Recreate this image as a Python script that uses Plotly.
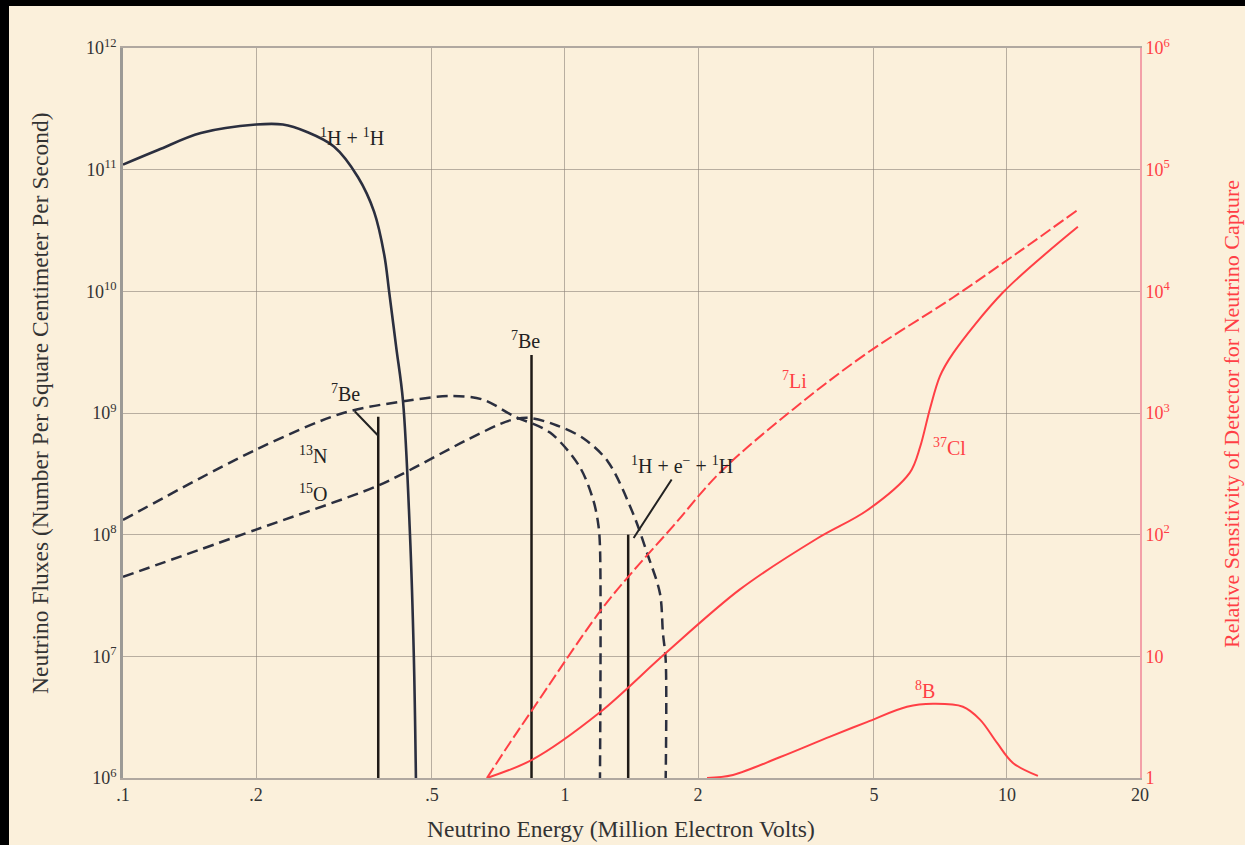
import math
import plotly.graph_objects as go

# ---------------- data ----------------
# neutrino energies in MeV, fluxes per cm^2 per s (left axis)
pp_E = [0.1, 0.12, 0.15, 0.2, 0.23, 0.26, 0.30, 0.34, 0.37, 0.39, 0.40, 0.415, 0.43, 0.446, 0.455, 0.46]
pp_F = [1.1e11, 1.45e11, 2.0e11, 2.35e11, 2.35e11, 2.05e11, 1.55e11, 8.7e10, 4.5e10, 2.0e10,
        1.0e10, 3.5e9, 1.26e9, 1.0e8, 1.0e7, 1.0e6]

n13_E = [0.1, 0.2, 0.315, 0.439, 0.549, 0.652, 0.763, 0.925, 1.08, 1.16, 1.19, 1.2, 1.2]
n13_F = [1.32e8, 5.0e8, 1.0e9, 1.26e9, 1.38e9, 1.29e9, 9.5e8, 6.9e8, 3.6e8, 1.9e8, 1.2e8, 8.0e7, 1.0e6]

o15_E = [0.1, 0.2, 0.375, 0.446, 0.600, 0.751, 0.833, 0.959, 1.1, 1.25, 1.425, 1.533, 1.64, 1.666, 1.69, 1.69]
o15_F = [4.5e7, 1.1e8, 2.5e8, 3.4e8, 6.0e8, 8.7e8, 9.1e8, 7.9e8, 6.2e8, 4.0e8, 1.5e8, 7.1e7, 3.3e7,
         1.55e7, 9.3e6, 1.0e6]

# line spectra: 7Be (two lines) and pep
line_E = [0.378, 0.84, 1.39]
line_F = [9.3e8, 3.0e9, 1.0e8]

# detector sensitivities (right axis)
li7_E = [0.666, 0.751, 0.842, 1.20, 1.425, 1.755, 2.242, 3.28, 4.82, 7.55, 10.7, 14.47]
li7_S = [1.0, 1.95, 3.6, 23.4, 50, 117, 324, 1070, 3100, 8900, 21400, 46800]

cl37_E = [0.666, 0.842, 1.20, 1.683, 2.488, 3.72, 4.82, 6.03, 6.36, 6.69, 7.05, 7.55, 9.79, 14.47]
cl37_S = [1.0, 1.41, 3.47, 10.5, 35.5, 93, 158, 324, 525, 1070, 2000, 3090, 9770, 33900]

b8_E = [2.096, 2.40, 3.06, 3.98, 4.82, 5.94, 6.80, 7.95, 8.69, 9.49, 10.32, 11.75]
b8_S = [1.0, 1.06, 1.48, 2.19, 2.88, 3.85, 4.07, 3.85, 3.02, 1.95, 1.33, 1.04]

x_ticks = [0.1, 0.2, 0.5, 1, 2, 5, 10, 20]
x_labels = [".1", ".2", ".5", "1", "2", "5", "10", "20"]
yl_ticks = [1e6, 1e7, 1e8, 1e9, 1e10, 1e11, 1e12]
yl_labels = ["10<sup>6</sup>", "10<sup>7</sup>", "10<sup>8</sup>", "10<sup>9</sup>",
             "10<sup>10</sup>", "10<sup>11</sup>", "10<sup>12</sup>"]
yr_ticks = [1, 10, 100, 1e3, 1e4, 1e5, 1e6]
yr_labels = ["1", "10", "10<sup>2</sup>", "10<sup>3</sup>", "10<sup>4</sup>", "10<sup>5</sup>", "10<sup>6</sup>"]

# ---------------- styling ----------------
BG = "#FBF0DB"
DARK = "#2b2f3f"
RED = "#FF3F45"
GRID = "rgba(140,130,120,0.6)"
FONT = "Liberation Serif"

fig = go.Figure()

fig.add_trace(go.Scatter(x=pp_E, y=pp_F, mode="lines",
                         line=dict(color=DARK, width=2.6, shape="spline", smoothing=1.0)))
fig.add_trace(go.Scatter(x=n13_E, y=n13_F, mode="lines",
                         line=dict(color=DARK, width=2.5, dash="11px,6px", shape="spline", smoothing=0.9)))
fig.add_trace(go.Scatter(x=o15_E, y=o15_F, mode="lines",
                         line=dict(color=DARK, width=2.5, dash="11px,6px", shape="spline", smoothing=0.9)))

for e, f in zip(line_E, line_F):
    fig.add_trace(go.Scatter(x=[e, e], y=[1e6, f], mode="lines", line=dict(color="#1f1a16", width=2.5)))

fig.add_trace(go.Scatter(x=li7_E, y=li7_S, yaxis="y2", mode="lines",
                         line=dict(color=RED, width=2, dash="12px,4px", shape="spline", smoothing=1.0)))
fig.add_trace(go.Scatter(x=cl37_E, y=cl37_S, yaxis="y2", mode="lines",
                         line=dict(color=RED, width=2, shape="spline", smoothing=0.9)))
fig.add_trace(go.Scatter(x=b8_E, y=b8_S, yaxis="y2", mode="lines",
                         line=dict(color=RED, width=2, shape="spline", smoothing=1.0)))

L = math.log10

def ann(text, x, y, yref="y", color="#222", size=20):
    return dict(text=text, x=L(x), y=L(y), xref="x", yref=yref, showarrow=False,
                xanchor="center", yanchor="middle",
                font=dict(family=FONT, size=size, color=color))

annotations = [
    ann("<sup>1</sup>H + <sup>1</sup>H", 0.33, 1.86e11),
    ann("<sup>7</sup>Be", 0.318, 1.46e9),
    ann("<sup>13</sup>N", 0.269, 4.5e8),
    ann("<sup>15</sup>O", 0.269, 2.2e8),
    ann("<sup>7</sup>Be", 0.812, 4.0e9),
    ann("<sup>1</sup>H + e<sup>\u2212</sup> + <sup>1</sup>H", 1.84, 3.75e8),
    ann("<sup>7</sup>Li", 3.31, 1870, yref="y2", color=RED),
    ann("<sup>37</sup>Cl", 7.43, 525, yref="y2", color=RED),
    ann("<sup>8</sup>B", 6.52, 5.3, yref="y2", color=RED),
]
# leader lines
annotations.append(dict(x=L(line_E[0]), y=L(6.5e8), xref="x", yref="y", text="", showarrow=True,
                        arrowhead=0, arrowwidth=2, arrowcolor="#222", ax=-25, ay=-26, standoff=0))
annotations.append(dict(x=L(1.43), y=L(9.4e7), xref="x", yref="y", text="", showarrow=True,
                        arrowhead=0, arrowwidth=2, arrowcolor="#222", ax=39, ay=-60, standoff=0))
# axis titles
TS = 23.5
annotations += [
    dict(text="Neutrino Energy (Million Electron Volts)", xref="paper", yref="paper",
         x=(621 - 123) / 1017, y=-(829 - 778) / 730, showarrow=False,
         xanchor="center", yanchor="middle",
         font=dict(family=FONT, size=TS, color="#333")),
    dict(text="Neutrino Fluxes (Number Per Square Centimeter Per Second)", xref="paper", yref="paper",
         x=(40 - 123) / 1017, y=(778 - 403) / 730, showarrow=False, textangle=-90,
         xanchor="center", yanchor="middle",
         font=dict(family=FONT, size=TS, color="#333")),
    dict(text="Relative Sensitivity of Detector for Neutrino Capture", xref="paper", yref="paper",
         x=(1231 - 123) / 1017, y=(778 - 414) / 730, showarrow=False, textangle=-90,
         xanchor="center", yanchor="middle",
         font=dict(family=FONT, size=22, color=RED)),
]

shapes = [
    # black frame strips of the scanned image
    dict(type="rect", xref="paper", yref="paper", x0=-123 / 1017, x1=-114 / 1017,
         y0=-67 / 730, y1=1 + 48 / 730, fillcolor="black", line=dict(width=0)),
    dict(type="rect", xref="paper", yref="paper", x0=-123 / 1017, x1=1 + 105 / 1017,
         y0=1 + 42 / 730, y1=1 + 48 / 730, fillcolor="black", line=dict(width=0)),
]

fig.update_layout(
    width=1245, height=845,
    margin=dict(l=123, r=105, t=48, b=67),
    paper_bgcolor=BG, plot_bgcolor=BG,
    showlegend=False,
    font=dict(family=FONT, color="#333", size=14),
    annotations=annotations,
    shapes=shapes,
    xaxis=dict(type="log", range=[L(0.1), L(20)], tickvals=x_ticks, ticktext=x_labels,
               showgrid=True, gridcolor=GRID, gridwidth=1.2, zeroline=False,
               showline=True, linecolor="#b0a8a0", linewidth=1.5, mirror=True,
               ticks="", tickfont=dict(family=FONT, size=18, color="#333")),
    yaxis=dict(type="log", range=[6, 12], tickvals=yl_ticks, ticktext=yl_labels,
               showgrid=True, gridcolor=GRID, gridwidth=1.2, zeroline=False,
               showline=True, linecolor="#9c9a96", linewidth=2.5,
               ticks="", tickfont=dict(family=FONT, size=18, color="#333")),
    yaxis2=dict(type="log", range=[0, 6], overlaying="y", side="right",
                tickvals=yr_ticks, ticktext=yr_labels, showgrid=False, zeroline=False,
                showline=True, linecolor="#F3A0A8", linewidth=2,
                ticks="", tickfont=dict(family=FONT, size=18, color=RED)),
)

fig.write_html("out.html", config={"displayModeBar": False},
               post_script="document.body.style.margin='0';")
